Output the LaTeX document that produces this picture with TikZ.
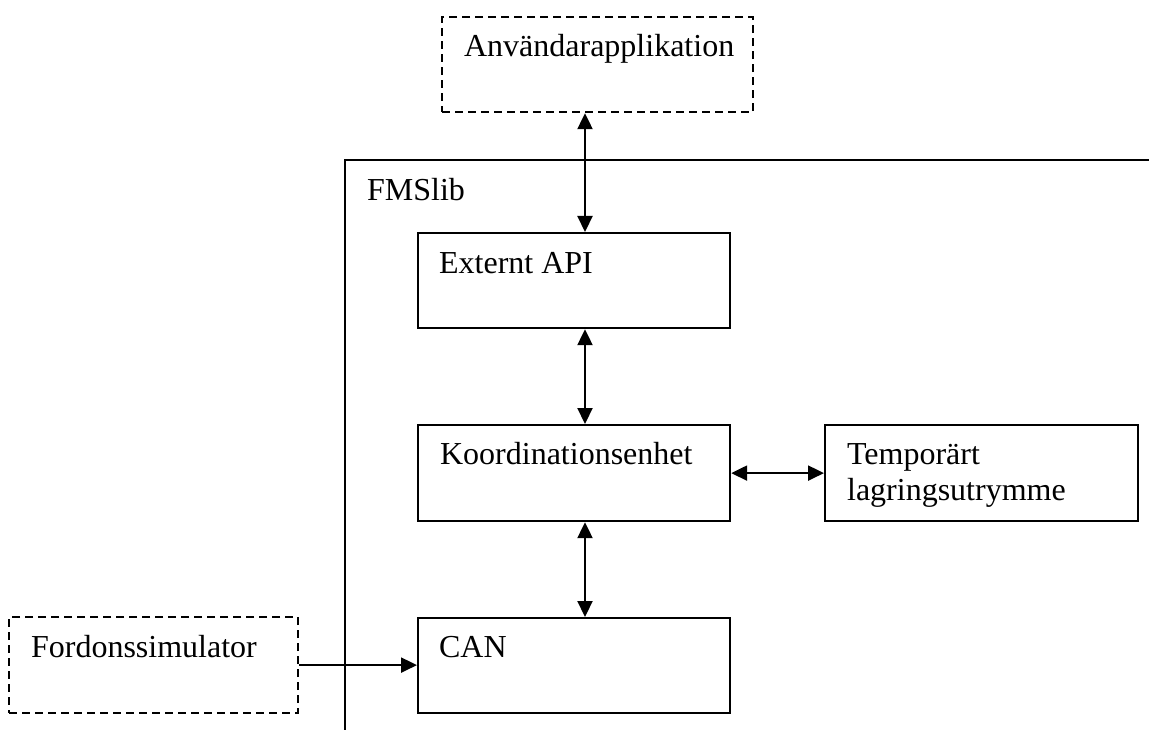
\documentclass[tikz,border=0pt]{standalone}
\usepackage{fontspec}
\setmainfont{Liberation Serif}
\usetikzlibrary{arrows.meta,calc}
\begin{document}
\begin{tikzpicture}[x=1pt,y=-1pt,
  line width=2.2pt,
  every node/.style={font=\fontsize{32}{36}\selectfont},
  block/.style={draw, rectangle, inner sep=0pt, anchor=north west},
  ghost/.style={block, dash pattern=on 8pt off 5pt},
  txt/.style={anchor=base west, inner sep=0pt, align=left},
  tip/.style={-{Triangle[length=16pt,width=15pt]}},
  twotip/.style={{Triangle[length=16pt,width=15pt]}-{Triangle[length=16pt,width=15pt]}}]
  \useasboundingbox (0,0) rectangle (1149,730);

  % library frame
  \draw (1149,160) -- (345,160) -- (345,730);
  \node[txt] (libname) at (366,201) {FMSlib};

  % external parts (dashed)
  \node[ghost, minimum width=311pt, minimum height=95pt] (app) at (441,16) {};
  \node[txt] (apptxt) at ($(app.north west)+(22,41)$) {Användarapplikation};
  \node[ghost, minimum width=289pt, minimum height=96pt] (sim) at (8,616) {};
  \node[txt] (simtxt) at ($(sim.north west)+(22,41)$) {Fordonssimulator};

  % internal modules
  \node[block, minimum width=312pt, minimum height=95pt] (api) at (417,232) {};
  \node[txt] (apitxt) at ($(api.north west)+(21,41)$) {Externt API};
  \node[block, minimum width=312pt, minimum height=96pt] (coord) at (417,424) {};
  \node[txt] (coordtxt) at ($(coord.north west)+(22,40)$) {Koordinationsenhet};
  \node[block, minimum width=313pt, minimum height=96pt] (store) at (824,424) {};
  \node[txt] (storetxt) at ($(store.north west)+(22,76)$) {Temporärt\\lagringsutrymme};
  \node[block, minimum width=312pt, minimum height=95pt] (can) at (417,617) {};
  \node[txt] (cantxt) at ($(can.north west)+(21,40)$) {CAN};

  % connections
  \coordinate (axis) at (585,0);
  \draw[twotip] (app.south -| axis) -- (api.north -| axis);
  \draw[twotip] (api.south -| axis) -- (coord.north -| axis);
  \draw[twotip] (coord.south -| axis) -- (can.north -| axis);
  \draw[twotip] (coord.east) -- (coord.east -| store.west);
  \draw[tip] (sim.east) -- (sim.east -| can.west);
\end{tikzpicture}
\end{document}
